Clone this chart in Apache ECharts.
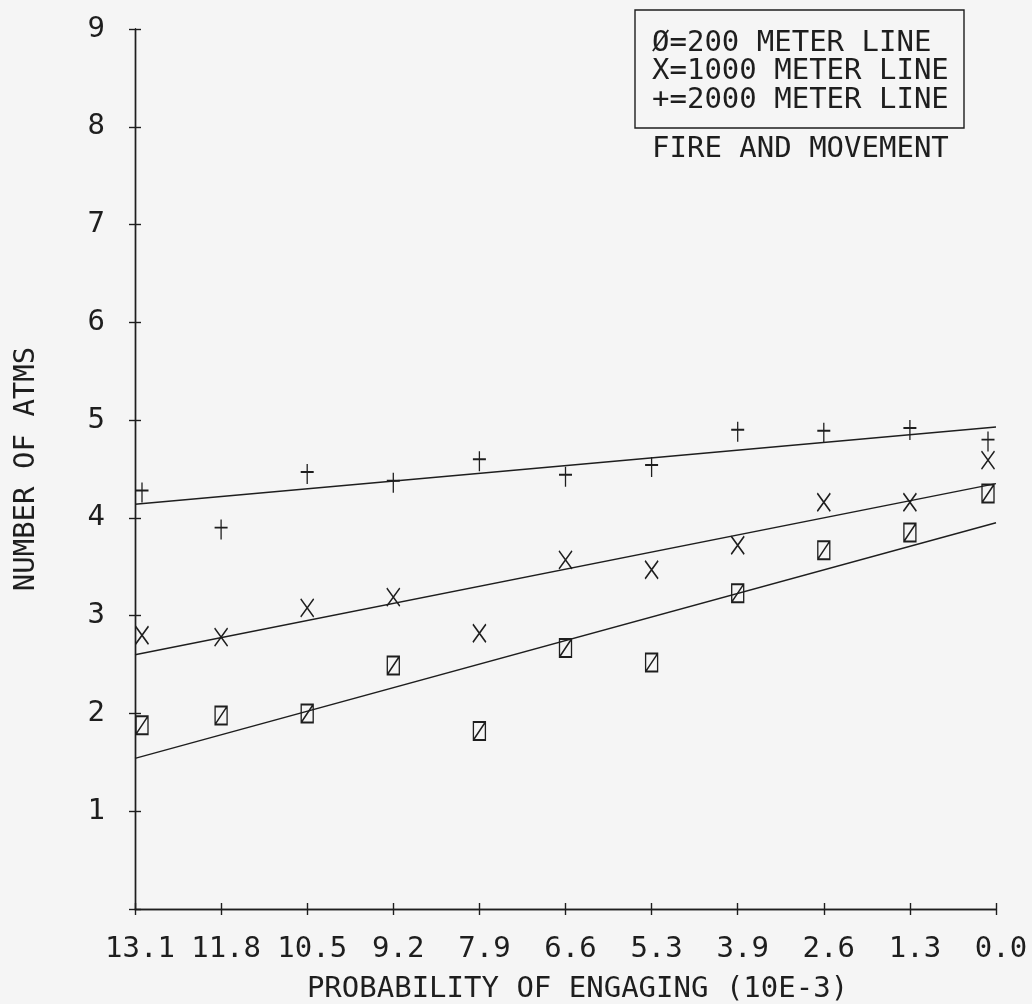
<!DOCTYPE html>
<html>
<head>
<meta charset="utf-8">
<script src="https://cdn.jsdelivr.net/npm/echarts@6/dist/echarts.min.js"></script>
<style>
  html, body { margin: 0; padding: 0; background: #f5f5f5; }
  #chart { width: 1032px; height: 1004px; }
</style>
</head>
<body>
<div id="chart"></div>
<script>
// Probability of engaging (10E-3), plotted from high to low
const categories = ['13.1', '11.8', '10.5', '9.2', '7.9', '6.6', '5.3', '3.9', '2.6', '1.3', '0.0'];

// Number of ATMs observed at each probability
const atms200 = [1.88, 1.98, 2.00, 2.49, 1.82, 2.67, 2.52, 3.23, 3.67, 3.85, 4.25];
const atms1000 = [2.80, 2.78, 3.08, 3.19, 2.82, 3.57, 3.47, 3.72, 4.16, 4.16, 4.59];
const atms2000 = [4.26, 3.88, 4.45, 4.36, 4.58, 4.42, 4.52, 4.88, 4.87, 4.90, 4.78];

// Fitted lines: value at the first and last category
const fit200 = [1.54, 3.95];
const fit1000 = [2.60, 4.35];
const fit2000 = [4.14, 4.93];

const yTicks = [0, 1, 2, 3, 4, 5, 6, 7, 8, 9];

const legendLines = ['\u00D8=200 METER LINE', 'X=1000 METER LINE', '+=2000 METER LINE'];
const subTitle = 'FIRE AND MOVEMENT';

const INK = '#1e1e1e';
const FONT = '"DejaVu Sans Mono", "Liberation Mono", monospace';

// Plot frame (a twin grid on the same frame carries the inward tick halves)
const GRID = { left: 135, right: 36, top: 29, bottom: 95, outerBoundsMode: 'none', containLabel: false };

// Plotter-style marker glyphs
const SYM_ZERO = 'path://M0 0 L12 0 L12 18 L0 18 Z M0 18 L12 0';
const SYM_X = 'path://M0 0 L12 18 M12 0 L0 18';
const SYM_PLUS = 'path://M6 0 L6 20 M0 8 L12 8';

// Markers at the two ends are nudged inward so they clear the frame
function markerSeries(name, values, symbol, size) {
  const last = values.length - 1;
  return {
    name: name,
    type: 'scatter',
    data: values.map((v, i) => {
      const item = { value: [categories[i], v] };
      if (i === 0) item.symbolOffset = [7, 0];
      if (i === last) item.symbolOffset = [-8, 0];
      return item;
    }),
    symbol: symbol,
    symbolSize: size,
    itemStyle: { color: 'transparent', borderColor: INK, borderWidth: 1.6, opacity: 1 },
    z: 5
  };
}

function fitSeries(name, fit) {
  return {
    name: name,
    type: 'line',
    data: [[categories[0], fit[0]], [categories[categories.length - 1], fit[1]]],
    symbol: 'none',
    lineStyle: { color: INK, width: 1.4 },
    silent: true,
    z: 4
  };
}

const chart = echarts.init(document.getElementById('chart'), null, { renderer: 'canvas' });

const axisText = { color: INK, fontFamily: FONT, fontSize: 29 };
const tickStyle = { color: INK, width: 1.4 };

chart.setOption({
  backgroundColor: '#f5f5f5',
  animation: false,
  grid: [Object.assign({}, GRID), Object.assign({}, GRID)],
  xAxis: [
    {
      gridIndex: 0,
      type: 'category',
      data: categories,
      boundaryGap: false,
      position: 'bottom',
      axisLine: { show: true, lineStyle: tickStyle },
      axisTick: { show: true, length: 6, interval: 0, lineStyle: tickStyle },
      axisLabel: Object.assign({ margin: 26, interval: 0, padding: [0, 0, 0, 10] }, axisText),
      splitLine: { show: false },
      name: 'PROBABILITY OF ENGAGING (10E-3)',
      nameLocation: 'middle',
      nameGap: 66,
      nameTextStyle: Object.assign({ padding: [0, 0, 0, 24] }, axisText)
    },
    {
      gridIndex: 1,
      type: 'category',
      data: categories,
      boundaryGap: false,
      position: 'bottom',
      axisLine: { show: true, lineStyle: tickStyle },
      axisTick: { show: true, inside: true, length: 6, interval: 0, lineStyle: tickStyle },
      axisLabel: { show: false },
      splitLine: { show: false }
    }
  ],
  yAxis: [
    {
      gridIndex: 0,
      type: 'value',
      min: yTicks[0],
      max: yTicks[yTicks.length - 1],
      interval: 1,
      position: 'left',
      axisLine: { show: true, lineStyle: tickStyle },
      axisTick: { show: true, length: 6, lineStyle: tickStyle },
      axisLabel: Object.assign({
        margin: 30,
        formatter: v => (v === 0 ? '' : String(v))
      }, axisText),
      splitLine: { show: false },
      name: 'NUMBER OF ATMS',
      nameLocation: 'middle',
      nameGap: 94,
      nameRotate: 90,
      nameTextStyle: axisText
    },
    {
      gridIndex: 1,
      type: 'value',
      min: yTicks[0],
      max: yTicks[yTicks.length - 1],
      interval: 1,
      position: 'left',
      axisLine: { show: true, lineStyle: tickStyle },
      axisTick: { show: true, inside: true, length: 6, lineStyle: tickStyle },
      axisLabel: { show: false },
      splitLine: { show: false }
    }
  ],
  series: [
    fitSeries('fit 200', fit200),
    fitSeries('fit 1000', fit1000),
    fitSeries('fit 2000', fit2000),
    markerSeries('200 METER LINE', atms200, SYM_ZERO, [12, 18]),
    markerSeries('1000 METER LINE', atms1000, SYM_X, [13, 18]),
    markerSeries('2000 METER LINE', atms2000, SYM_PLUS, [13, 20]),
    {
      // binds the twin tick axes so they are laid out and drawn
      name: 'frame ticks',
      type: 'scatter',
      xAxisIndex: 1,
      yAxisIndex: 1,
      data: [],
      silent: true
    }
  ],
  graphic: [
    {
      type: 'rect',
      shape: { x: 635, y: 10, width: 329, height: 118 },
      style: { fill: 'transparent', stroke: INK, lineWidth: 1.4 },
      z: 10
    },
    ...legendLines.map((t, i) => ({
      type: 'text',
      x: 652,
      y: 43 + i * 28.5,
      style: { text: t, fill: INK, font: '29px ' + FONT, textVerticalAlign: 'middle' },
      z: 10
    })),
    {
      type: 'text',
      x: 652,
      y: 149,
      style: { text: subTitle, fill: INK, font: '29px ' + FONT, textVerticalAlign: 'middle' },
      z: 10
    }
  ]
});
</script>
</body>
</html>
